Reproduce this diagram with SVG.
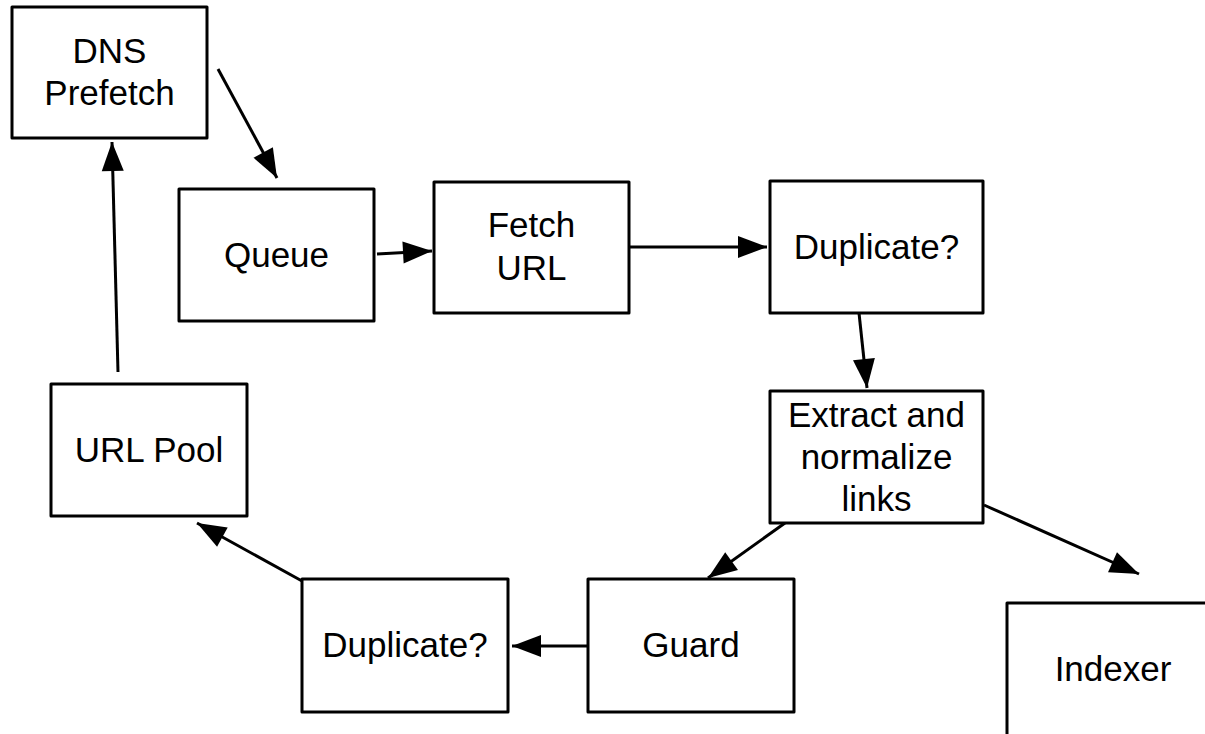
<svg xmlns="http://www.w3.org/2000/svg" width="1205" height="734" viewBox="0 0 1205 734">
<style>
.box{fill:#fff;stroke:#000;stroke-width:3;stroke-linejoin:round}
.lbl{font-family:"Liberation Sans",Arial,sans-serif;font-size:35px;fill:#000;text-anchor:middle}
.edge{stroke:#000;stroke-width:3;fill:none;marker-end:url(#ah)}
</style>
<defs>
<marker id="ah" markerUnits="userSpaceOnUse" markerWidth="30" markerHeight="24" refX="29" refY="11" orient="auto" overflow="visible">
<path d="M0,0 L29,11 L0,22 z" fill="#000"/>
</marker>
</defs>
<rect width="1205" height="734" fill="#fff"/>
<g id="connectors">
<line class="edge" x1="218" y1="69" x2="277" y2="178"/>
<line class="edge" x1="377" y1="254" x2="432" y2="251"/>
<line class="edge" x1="629" y1="247" x2="767" y2="247"/>
<line class="edge" x1="859" y1="313" x2="867" y2="388"/>
<line class="edge" x1="984" y1="505" x2="1139" y2="574"/>
<line class="edge" x1="785" y1="523" x2="708" y2="578"/>
<line class="edge" x1="588" y1="646" x2="512" y2="646"/>
<line class="edge" x1="302" y1="581" x2="197" y2="523"/>
<line class="edge" x1="118" y1="372" x2="112" y2="142"/>
</g>
<g id="dns">
<rect class="box" x="12" y="7" width="195" height="131"/>
<text class="lbl" x="109.5" y="63">DNS</text>
<text class="lbl" x="109.5" y="105">Prefetch</text>
</g>
<g id="queue">
<rect class="box" x="179" y="189" width="195" height="132"/>
<text class="lbl" x="276.5" y="267">Queue</text>
</g>
<g id="fetch">
<rect class="box" x="434" y="182" width="195" height="131"/>
<text class="lbl" x="531.5" y="237">Fetch</text>
<text class="lbl" x="531.5" y="280">URL</text>
</g>
<g id="dup1">
<rect class="box" x="770" y="181" width="213" height="132"/>
<text class="lbl" x="876.5" y="259">Duplicate?</text>
</g>
<g id="extract">
<rect class="box" x="770" y="391" width="213" height="132"/>
<text class="lbl" x="876.5" y="427">Extract and</text>
<text class="lbl" x="876.5" y="469">normalize</text>
<text class="lbl" x="876.5" y="511">links</text>
</g>
<g id="pool">
<rect class="box" x="51" y="384" width="196" height="132"/>
<text class="lbl" x="149" y="462">URL Pool</text>
</g>
<g id="dup2">
<rect class="box" x="302" y="579" width="206" height="133"/>
<text class="lbl" x="405" y="657">Duplicate?</text>
</g>
<g id="guard">
<rect class="box" x="588" y="579" width="206" height="133"/>
<text class="lbl" x="691" y="657">Guard</text>
</g>
<g id="indexer">
<rect class="box" x="1007" y="603" width="213" height="133"/>
<text class="lbl" x="1113" y="681">Indexer</text>
</g>
</svg>
